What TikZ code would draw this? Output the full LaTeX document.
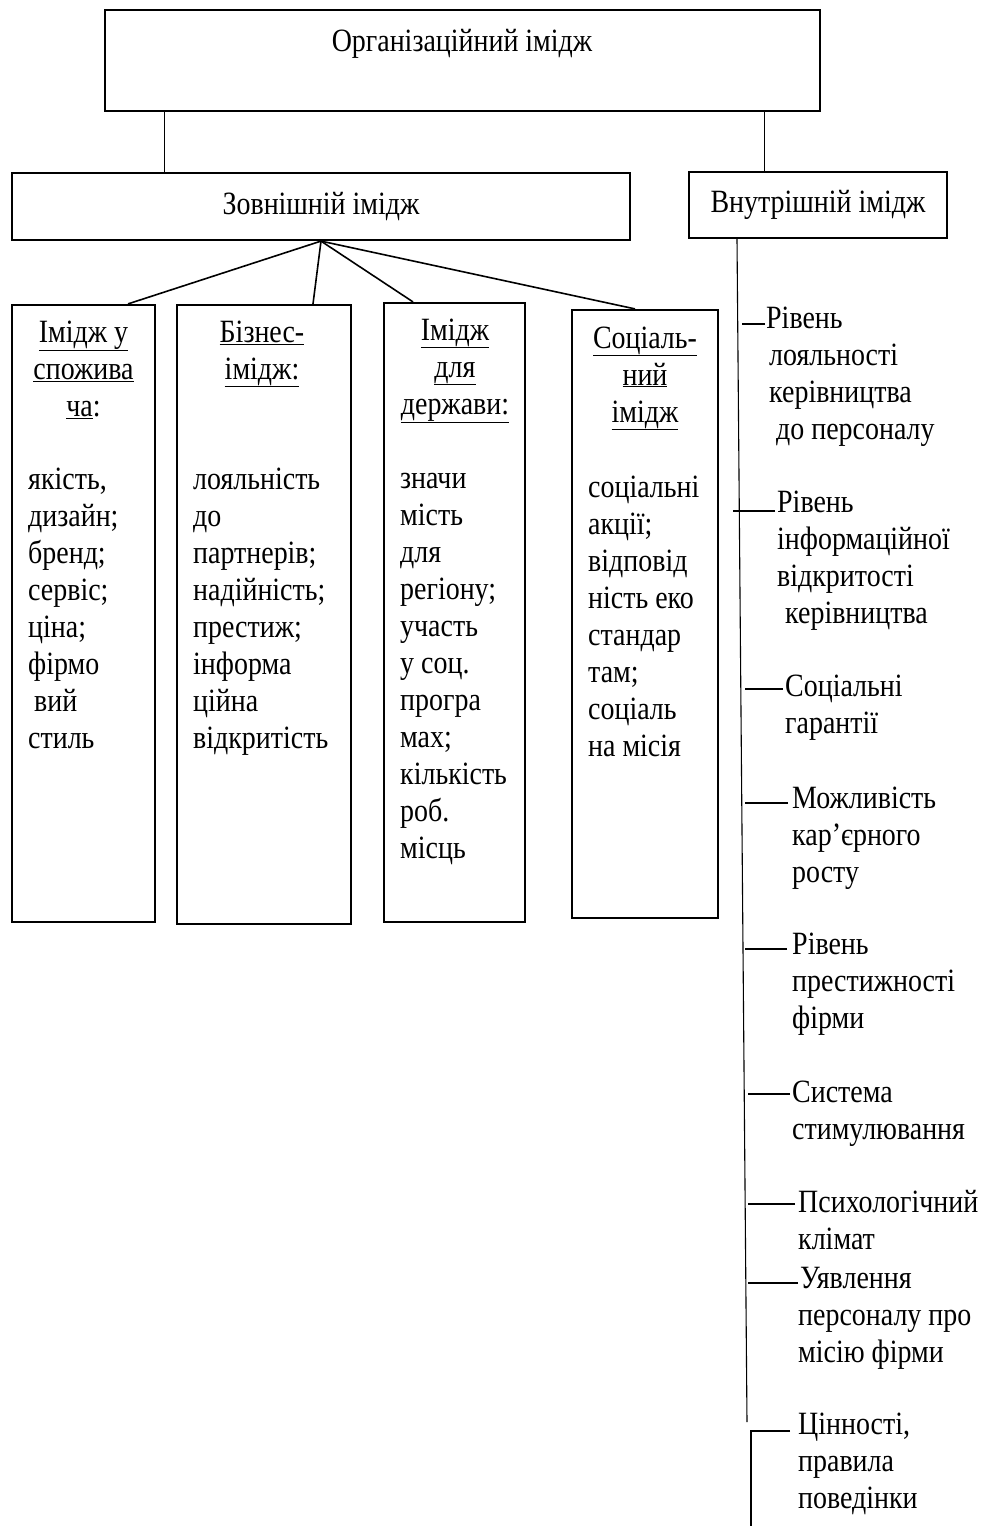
\documentclass[tikz,border=0pt]{standalone}
\usepackage{fontspec}
\setmainfont{Liberation Serif}[FakeStretch=0.86]
\usepackage{tikz}
\usetikzlibrary{positioning,calc}

\begin{document}
\begin{tikzpicture}[x=1pt, y=-1pt,
    font=\fontsize{32.5}{37}\selectfont,
    box/.style={rectangle, draw=black, line width=2.2pt, inner sep=0pt},
    head/.style={anchor=base, align=center, inner sep=0pt},
    body/.style={anchor=base west, align=left, inner sep=0pt},
    item/.style={anchor=base west, align=left, inner sep=0pt},
    link/.style={draw=black, line width=1.1pt},
    fan/.style={draw=black, line width=1.6pt}]

\useasboundingbox (0,0) rectangle (1000,1526);

% Top level and the two halves
\node[box, minimum width=715pt, minimum height=101pt] (org) at (462.5,60.5) {};
\node[inner sep=0pt, anchor=base] (orgtxt) at (462,51) {Організаційний імідж};
\node[box, minimum width=618pt, minimum height=67pt] (ext) at (321,206.5) {Зовнішній імідж};
\node[box, minimum width=258pt, minimum height=66pt] (int) at (818,205) {Внутрішній імідж};

\draw[link] ([xshift=-298pt]org.south) -- ([xshift=-298pt]org.south |- ext.north);
\draw[link] ([xshift=302pt]org.south) -- ([xshift=302pt]org.south |- int.north);

% External image: four columns (text nodes sit on their last baseline)
\node[box, minimum width=143pt, minimum height=617pt] (cons) at (83.5,613.5) {};
\node[box, minimum width=174pt, minimum height=619pt] (bus) at (264,614.5) {};
\node[box, minimum width=141pt, minimum height=619pt] (gov) at (454.5,612.5) {};
\node[box, minimum width=146pt, minimum height=608pt] (soc) at (645,614) {};

\draw[fan] (ext.south) -- ([xshift=44.5pt]cons.north);
\draw[fan] (ext.south) -- ([xshift=49pt]bus.north);
\draw[fan] (ext.south) -- ([xshift=-41.5pt]gov.north);
\draw[fan] (ext.south) -- ([xshift=-10pt]soc.north);

\node[head] (consh) at (83.5,416) {\underline{Імідж у}\\\underline{спожива}\\\underline{ча}:};
\node[body] (consb) at (28,748) {якість,\\дизайн;\\бренд;\\сервіс;\\ціна;\\фірмо\\\hspace*{6pt}вий\\стиль};

\node[head] (bush) at (262,379) {\underline{Бізнес-}\\\underline{імідж:}};
\node[body] (busb) at (193,748) {лояльність\\до\\партнерів;\\надійність;\\престиж;\\інформа\\ційна\\відкритість};

\node[head] (govh) at (455,414) {\underline{Імідж}\\\underline{для}\\\underline{держави:}};
\node[body] (govb) at (400,858) {значи\\міcть\\для\\регіону;\\участь\\у соц.\\програ\\мах;\\кількість\\роб.\\місць};

\node[head] (soch) at (645,422) {\underline{Соціаль-}\\\underline{ний}\\\underline{імідж}};
\node[body] (socb) at (588,756) {соціальні\\акції;\\відповід\\ність еко\\стандар\\там;\\соціаль\\на місія};

% Internal image: items along the spine
\coordinate (spend) at (747,1422);
\coordinate (brk) at (751,1526);
\draw[link] ([xshift=-81pt]int.south) -- (spend);

\node[item] (r1) at (766,439) {Рівень\\\hspace*{3pt}лояльності\\\hspace*{3pt}керівництва\\\hspace*{10pt}до персоналу};
\node[item] (r2) at (777,623) {Рівень\\інформаційної\\відкритості\\\hspace*{8pt}керівництва};
\node[item] (r3) at (785,733) {Соціальні\\гарантії};
\node[item] (r4) at (792,882) {Можливість\\кар’єрного\\росту};
\node[item] (r5) at (792,1028) {Рівень\\престижності\\фірми};
\node[item] (r6) at (792,1139) {Система\\стимулювання};
\node[item] (r7) at (798,1249) {Психологічний\\клімат};
\node[item] (r8) at (800,1362) {Уявлення\\\hspace*{-2pt}персоналу про\\\hspace*{-2pt}місію фірми};
\node[item] (r9) at (798,1508) {Цінності,\\правила\\поведінки};

\draw[link] ([xshift=-1pt,yshift=115pt]r1.base west) -- ++(-23,0);
\draw[link] ([xshift=-2pt,yshift=112pt]r2.base west) -- ++(-42,0);
\draw[link] ([xshift=-2pt,yshift=44pt]r3.base west) -- ++(-38,0);
\draw[link] ([xshift=-4pt,yshift=79pt]r4.base west) -- ++(-43,0);
\draw[link] ([xshift=-5pt,yshift=79pt]r5.base west) -- ++(-42,0);
\draw[link] ([xshift=-2pt,yshift=45pt]r6.base west) -- ++(-42,0);
\draw[link] ([xshift=-3pt,yshift=45pt]r7.base west) -- ++(-47,0);
\draw[link] ([xshift=-2pt,yshift=79pt]r8.base west) -- ++(-50,0);
\draw[link] ([xshift=-8pt,yshift=77pt]r9.base west) -| (brk);

\end{tikzpicture}
\end{document}
